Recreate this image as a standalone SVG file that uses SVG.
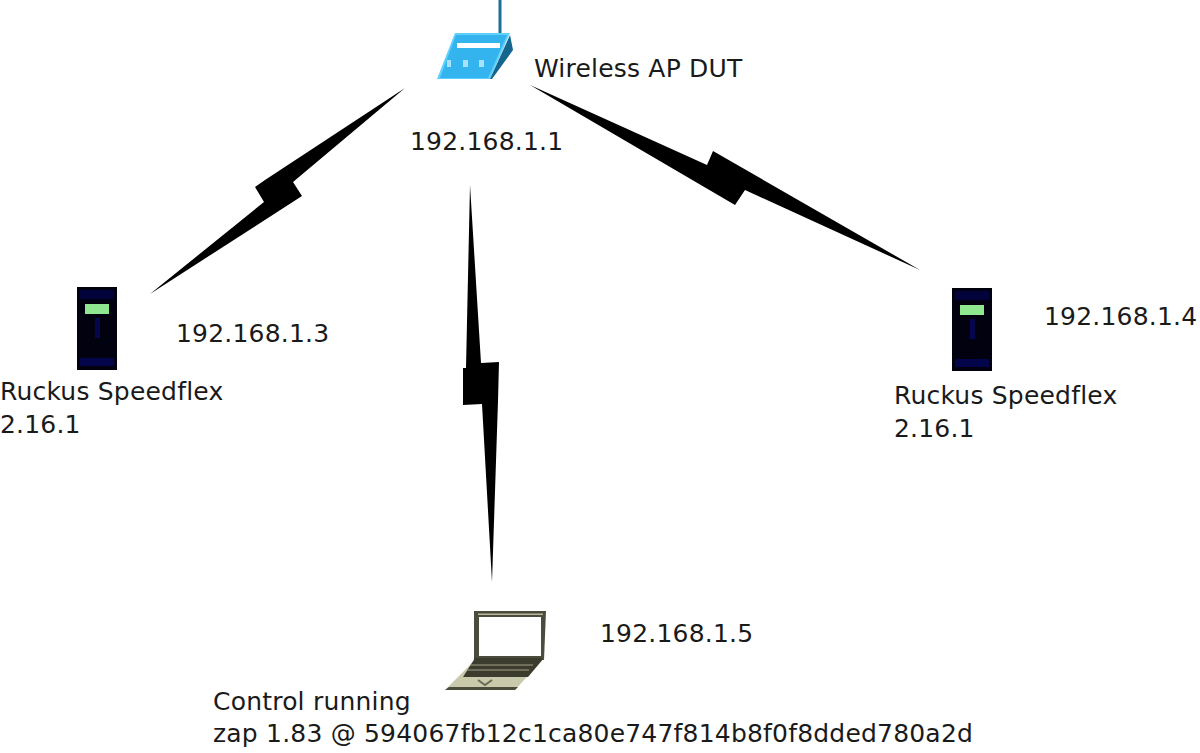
<svg xmlns="http://www.w3.org/2000/svg" width="1200" height="753" viewBox="0 0 1200 753">
<style>
text{font-family:"DejaVu Sans",sans-serif;font-size:25px;letter-spacing:.2px;fill:#1a1a1a}
.bolt{fill:#000}
</style>
<defs>
<g id="server">
<rect x="77" y="287" width="40" height="83" fill="#010110"/>
<rect x="80" y="290" width="34" height="9" fill="#03033c"/>
<rect x="80" y="358" width="34" height="8" fill="#04044a"/>
<rect x="95" y="318" width="5" height="20" fill="#06064f"/>
<rect x="85" y="304" width="24" height="10" fill="#8fe88f"/>
</g>
</defs>
<rect width="1200" height="753" fill="#fff"/>
<g id="connectors">
<polygon class="bolt" points="405,88 265,180 255,187 264,202 150,294 302,196 293,182"/>
<polygon class="bolt" points="530,85 707,165 713,151 920,270 745,190 735,205"/>
<polygon class="bolt" points="470,185 481,363 499,362 498,401 492,582 482,404 463,405 463,368 466,368"/>
</g>
<g id="ap">
<rect x="498.500" y="0" width="3" height="34" fill="#1d6f96"/>
<polygon points="455,33 510,33 490,79 437,79" fill="#5fd0fb"/>
<polygon points="456,35 507,35 488,78 440,78" fill="#33b4ee"/>
<polygon points="510,35 513,50 492,79 490,79" fill="#14668f"/>
<rect x="457" y="43" width="43" height="5" fill="#fff"/>
<rect x="447" y="60" width="4" height="7" fill="#a8e2fb"/>
<rect x="463" y="60" width="5" height="7" fill="#a8e2fb"/>
<rect x="479" y="60" width="5" height="7" fill="#a8e2fb"/>
<text x="534" y="77">Wireless AP DUT</text>
<text x="410" y="150">192.168.1.1</text>
</g>
<g id="speedflex-left">
<use href="#server"/>
<text x="176" y="342">192.168.1.3</text>
<text x="0" y="400">Ruckus Speedflex</text>
<text x="0" y="433">2.16.1</text>
</g>
<g id="speedflex-right">
<use href="#server" x="875" y="1"/>
<text x="1044" y="325">192.168.1.4</text>
<text x="894" y="404">Ruckus Speedflex</text>
<text x="894" y="437">2.16.1</text>
</g>
<g id="control">
<polygon points="474,611 546,611 544,660 474,660" fill="#4c4c3c"/>
<rect x="478" y="613.500" width="65" height="1.500" fill="#b8b89c"/>
<rect x="479" y="617" width="62" height="39" fill="#fff"/>
<polygon points="475,660 544,658 515,690 445,690" fill="#c9c9ac"/>
<polygon points="475,658 544,658 528,677 463,677" fill="#3c3c2e"/>
<path d="M470,665H533M467,670H529" stroke="#a0a086" stroke-width="1" fill="none"/>
<path d="M445,690H515L518,687H449Z" fill="#4c4c3c"/>
<path d="M478,680L485,685L492,680" stroke="#6a6a58" stroke-width="2" fill="none"/>
<text x="600" y="642">192.168.1.5</text>
<text x="213" y="710">Control running</text>
<text x="213" y="742">zap 1.83 @ 594067fb12c1ca80e747f814b8f0f8dded780a2d</text>
</g>
</svg>
